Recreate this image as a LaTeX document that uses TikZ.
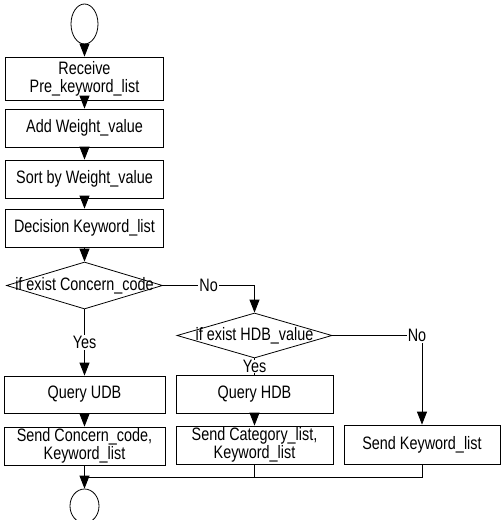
\documentclass[tikz,border=0pt]{standalone}
\usepackage{fontspec}
\setmainfont[FakeStretch=0.8]{Liberation Sans}
\usetikzlibrary{arrows.meta}
\usetikzlibrary{shapes.geometric}

\begin{document}
\begin{tikzpicture}[x=1pt, y=-1pt, line width=0.8pt,
    every node/.style={font=\fontsize{18}{18}\selectfont},
    box/.style={draw, rectangle, inner sep=0pt, align=center},
    decision/.style={draw, diamond, inner sep=0pt},
    terminal/.style={draw, ellipse, inner sep=0pt},
    flow/.style={-{Triangle[width=10pt,length=13pt]}},
    lbl/.style={fill=white, inner sep=1pt}]
        \useasboundingbox (0,0) rectangle (501,520);

        \node[terminal, minimum width=27pt, minimum height=40pt] (start) at (84.5,24) {};
        \node[box, minimum width=158pt, minimum height=43pt] (recv) at (84.5,78.5) {Receive\\Pre\_keyword\_list};
        \node[box, minimum width=158pt, minimum height=38pt] (addw) at (84.5,128) {Add Weight\_value};
        \node[box, minimum width=158pt, minimum height=38pt] (sortw) at (84.5,179) {Sort by Weight\_value};
        \node[box, minimum width=158pt, minimum height=38pt] (decide) at (84.5,228) {Decision Keyword\_list};

        \node[decision, minimum width=156pt, minimum height=47pt,
              label={center:if exist Concern\_code}] (concern) at (84.5,285.5) {};
        \node[decision, minimum width=155pt, minimum height=45pt,
              label={center:if exist HDB\_value}] (hdb) at (254.5,335.5) {};

        \node[box, minimum width=161pt, minimum height=37pt] (qudb) at (84.5,394.5) {Query UDB};
        \node[box, minimum width=157pt, minimum height=38pt] (qhdb) at (254.5,394) {Query HDB};
        \node[box, minimum width=161pt, minimum height=38pt] (sendc) at (84.5,446) {Send Concern\_code,\\Keyword\_list};
        \node[box, minimum width=157pt, minimum height=38pt] (sendcat) at (254.5,445) {Send Category\_list,\\Keyword\_list};
        \node[box, minimum width=156pt, minimum height=39pt] (sendk) at (422,444.5) {Send Keyword\_list};

        \node[terminal, minimum width=29pt, minimum height=34pt] (end) at (84.5,506) {};
        \coordinate (join) at (84.5,477);

        \draw[flow] (start) -- (recv);
        \draw[flow] (recv) -- (addw);
        \draw[flow] (addw) -- (sortw);
        \draw[flow] (sortw) -- (decide);
        \draw[flow] (decide) -- (concern);

        \draw[flow] (concern.south) -- node[lbl] {Yes} (qudb);
        \draw[flow] (concern.east) -| node[lbl, pos=0.25] {No} (hdb.north);
        \draw (hdb.south) -- node[lbl, inner sep=0pt] {Yes} (qhdb);
        \draw[flow] (hdb.east) -| node[lbl, pos=0.5, xshift=-5pt] {No} (sendk.north);

        \draw[flow] (qudb) -- (sendc);
        \draw[flow] (qhdb) -- (sendcat);

        \draw[flow] (sendc) -- (end);
        \draw (sendcat.south) |- (join);
        \draw (sendk.south) |- (join);
\end{tikzpicture}
\end{document}
